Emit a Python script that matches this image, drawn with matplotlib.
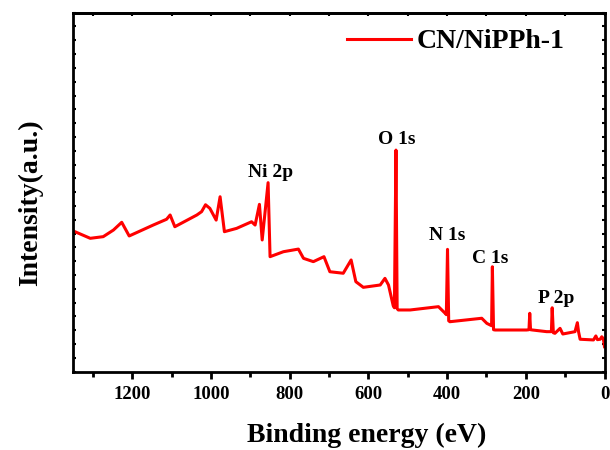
import numpy as np
import matplotlib
matplotlib.use('Agg')
import matplotlib.pyplot as plt
from matplotlib.ticker import MultipleLocator, NullFormatter

# 结合能 (eV) 与强度 (a.u.)
binding_energy = [1350, 1307, 1274, 1248, 1227, 1208, 1147, 1113, 1104, 1092,
                  1036, 1024, 1014, 1003, 987, 977, 966, 935, 897, 888,
                  877, 870, 855, 850, 816, 778, 765, 740, 713, 698,
                  664, 644, 632, 613, 570, 558, 549, 537, 534, 530,
                  527, 524, 494, 422, 405, 402, 399, 396, 393, 312,
                  299, 287, 285, 282, 278, 198, 192, 190, 188, 183,
                  147, 135, 133, 130, 126, 113, 106, 75, 69, 66,
                  62, 28, 22, 18, 11, 7, 3, 0]
intensity = [10.19, 9.66, 9.78, 10.26, 10.82, 9.83, 10.62, 11.04, 11.35, 10.50,
             11.35, 11.59, 12.09, 11.83, 10.98, 12.67, 10.14, 10.38, 10.86, 10.62,
             12.12, 9.54, 13.69, 8.33, 8.69, 8.88, 8.21, 7.97, 8.33, 7.24,
             7.13, 8.09, 6.52, 6.11, 6.28, 6.76, 6.28, 4.78, 4.63, 16.05,
             4.56, 4.47, 4.47, 4.71, 4.23, 4.13, 8.86, 3.69, 3.62, 3.87,
             3.50, 3.33, 7.60, 3.04, 3.02, 3.02, 3.04, 4.23, 3.04, 3.02,
             2.90, 2.90, 4.63, 2.82, 2.78, 3.14, 2.73, 2.90, 3.55, 2.90,
             2.35, 2.30, 2.59, 2.32, 2.35, 2.53, 2.39, 1.81]

# 峰标注
peak_labels = ['Ni 2p', 'O 1s', 'N 1s', 'C 1s', 'P 2p']
peak_x = [849, 527, 400, 291, 123]
peak_y = [14.10, 16.49, 9.54, 7.87, 4.97]

plt.rcParams['font.family'] = ['Liberation Serif', 'DejaVu Serif']
plt.rcParams['font.weight'] = 'bold'

fig = plt.figure(figsize=(6.1, 4.5), dpi=100)
ax = fig.add_axes([0.1202, 0.174, 0.8708, 0.7978])

ax.plot(binding_energy, intensity, color='#ff0000', lw=2.2, label='CN/NiPPh-1')

for lab, x, y in zip(peak_labels, peak_x, peak_y):
    ax.text(x, y, lab, ha='center', va='baseline', fontsize=14, fontweight='bold')

ax.set_xlim(1350, 0)
ax.set_ylim(0, 26)
ax.xaxis.set_major_locator(MultipleLocator(200))
ax.xaxis.set_minor_locator(MultipleLocator(100))
ax.yaxis.set_major_locator(MultipleLocator(1))
ax.yaxis.set_major_formatter(NullFormatter())

ax.tick_params(axis='x', which='major', direction='out', length=5, width=2,
               labelsize=13.5, pad=5)
ax.tick_params(axis='x', which='minor', direction='out', length=3.5, width=2)
ax.tick_params(axis='y', which='major', direction='in', length=2.5, width=1.5,
               left=True, right=True)
for lbl in ax.get_xticklabels():
    lbl.set_fontweight('bold')

for s in ax.spines.values():
    s.set_linewidth(2)

# 顶部刻度朝内
top = ax.secondary_xaxis('top')
top.xaxis.set_major_locator(MultipleLocator(100))
top.tick_params(direction='in', length=2.5, width=1.5, labeltop=False)
top.spines['top'].set_linewidth(2)

ax.set_xlabel('Binding energy (eV)', fontsize=20, fontweight='bold', va='baseline')
ax.xaxis.set_label_coords(0.553, -0.195)
ax.set_ylabel('Intensity(a.u.)', fontsize=20, fontweight='bold')
ax.yaxis.set_label_coords(-0.057, 0.47)

ax.legend(loc='center left', bbox_to_anchor=(0.515, 0.919), frameon=False,
          fontsize=20, handlelength=2.3, handletextpad=0.22,
          borderpad=0, borderaxespad=0, prop={'weight': 'bold', 'size': 20})

fig.savefig('out.png', dpi=100)
